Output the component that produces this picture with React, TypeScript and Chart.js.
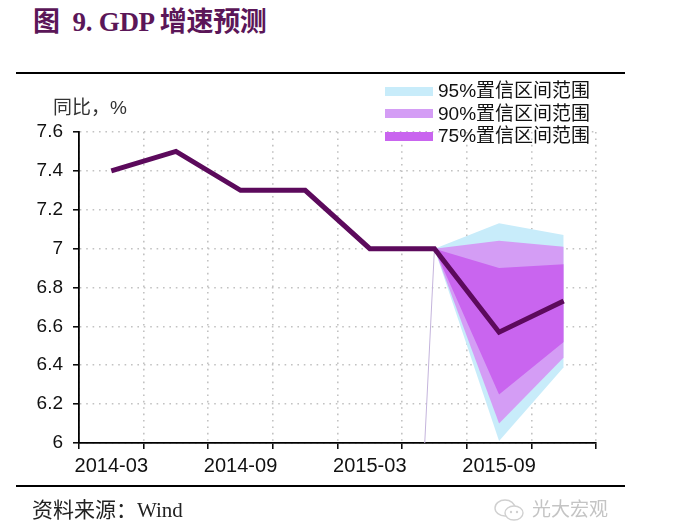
import React, { useEffect, useRef } from "react";
import { Chart, registerables } from "chart.js";

Chart.register(...registerables);

const categories = ["2014-03", "2014-06", "2014-09", "2014-12", "2015-03", "2015-06", "2015-09", "2015-12"];
const xTickLabels = ["2014-03", "", "2014-09", "", "2015-03", "", "2015-09", ""];
const gdpGrowth = [7.4, 7.5, 7.3, 7.3, 7.0, 7.0, 6.57, 6.73];
const upper95 = [null, null, null, null, null, 7.0, 7.13, 7.07];
const lower95 = [null, null, null, null, null, 7.0, 6.01, 6.39];
const upper90 = [null, null, null, null, null, 7.0, 7.04, 7.01];
const lower90 = [null, null, null, null, null, 7.0, 6.1, 6.44];
const upper75 = [null, null, null, null, null, 7.0, 6.9, 6.92];
const lower75 = [null, null, null, null, null, 7.0, 6.25, 6.52];
const guideX = [5, 4.85];
const guideY = [7.0, 6.0];
const yMin = 6;
const yMax = 7.6;
const yStep = 0.2;

const legendNames = ["95%置信区间范围", "90%置信区间范围", "75%置信区间范围"];
const bandColors = ["#c8ecfa", "#d49df5", "#c965ef"];
const lineColor = "#5c0a5c";

const sansFont = '"Liberation Sans", Arial, "Noto Sans CJK SC", sans-serif';
const serifFont = '"Liberation Serif", "Times New Roman", "Noto Sans CJK SC", serif';

export default function App() {
  const canvasRef = useRef<HTMLCanvasElement | null>(null);

  useEffect(() => {
    const canvas = canvasRef.current;
    if (!canvas) return;
    const band = (data: (number | null)[], color: string, fill: any, order: number) => ({
      type: "line" as const,
      data,
      borderColor: "rgba(0,0,0,0)",
      borderWidth: 0,
      backgroundColor: color,
      pointRadius: 0,
      fill,
      order,
      tension: 0,
    });
    const chart = new Chart(canvas, {
      type: "line",
      data: {
        labels: categories,
        datasets: [
          band(upper95, bandColors[0], "+1", 10),
          band(lower95, bandColors[0], false, 10),
          band(upper90, bandColors[1], "+1", 8),
          band(lower90, bandColors[1], false, 8),
          band(upper75, bandColors[2], "+1", 6),
          band(lower75, bandColors[2], false, 6),
          {
            type: "line",
            data: guideX.map((x, i) => ({ x, y: guideY[i] })),
            xAxisID: "x2",
            borderColor: "#c4b4dc",
            borderWidth: 1,
            pointRadius: 0,
            fill: false,
            order: 4,
          } as any,
          {
            type: "line",
            data: gdpGrowth,
            borderColor: lineColor,
            borderWidth: 5,
            pointRadius: 0,
            fill: false,
            tension: 0,
            order: 0,
          },
        ],
      },
      options: {
        responsive: false,
        animation: false,
        layout: { padding: { top: 132, right: 91, left: 0, bottom: 0 } },
        plugins: {
          legend: { display: false },
          tooltip: { enabled: false },
          title: { display: false },
        },
        scales: {
          x: {
            type: "category",
            offset: true,
            grid: {
              offset: true,
              color: "#c2c2c2",
              lineWidth: 1.6,
              tickLength: 6,
              tickColor: "#000",
              tickWidth: 1.5,
            },
            border: { display: true, color: "#000", width: 1.8, dash: [1.6, 4.8] },
            ticks: {
              autoSkip: false,
              maxRotation: 0,
              minRotation: 0,
              padding: 5,
              color: "#111",
              font: { family: sansFont, size: 20 },
              callback: (_v: any, i: number) => xTickLabels[i],
            },
            afterFit: (scale: any) => {
              scale.height = 86;
            },
          },
          x2: {
            type: "linear",
            display: false,
            min: -0.5,
            max: 7.5,
            offset: false,
          },
          y: {
            type: "linear",
            min: yMin,
            max: yMax,
            grid: {
              color: "#c2c2c2",
              lineWidth: 1.6,
              tickLength: 6,
              tickColor: "#000",
              tickWidth: 1.5,
            },
            border: { display: true, color: "#000", width: 1.8, dash: [1.6, 4.8] },
            ticks: {
              stepSize: yStep,
              padding: 10,
              color: "#111",
              font: { family: sansFont, size: 19 },
              callback: (v: any) => String(Math.round(Number(v) * 10) / 10),
            },
            afterFit: (scale: any) => {
              scale.width = 79;
            },
          },
        },
      },
    } as any);
    return () => chart.destroy();
  }, []);

  return (
    <div style={{ position: "fixed", left: 0, top: 0, width: 687, height: 529, background: "#fff", overflow: "hidden" }}>
      <div
        style={{
          position: "absolute",
          left: 33,
          top: 4,
          fontFamily: serifFont,
          fontWeight: "bold",
          fontSize: 27,
          lineHeight: "36px",
          color: "#5b1658",
          whiteSpace: "pre",
          letterSpacing: -0.3,
        }}
      >
        {"图  9. GDP 增速预测"}
      </div>
      <div style={{ position: "absolute", left: 16, top: 72, width: 609, height: 1.5, background: "#000" }} />
      <canvas ref={canvasRef} width={687} height={529} style={{ position: "absolute", left: 0, top: 0 }} />
      <div
        style={{
          position: "absolute",
          left: 53,
          top: 96,
          fontFamily: sansFont,
          fontSize: 19,
          lineHeight: "24px",
          color: "#333",
          whiteSpace: "pre",
        }}
      >
        同比，%
      </div>
      {legendNames.map((name, i) => (
        <div key={name} style={{ position: "absolute", left: 385, top: 79 + i * 22.5, height: 24, display: "flex", alignItems: "center" }}>
          <div style={{ width: 48, height: 9, background: bandColors[i] }} />
          <div
            style={{
              marginLeft: 5,
              fontFamily: sansFont,
              fontSize: 19,
              lineHeight: "24px",
              color: "#111",
              whiteSpace: "pre",
            }}
          >
            {name}
          </div>
        </div>
      ))}
      <div style={{ position: "absolute", left: 16, top: 485, width: 609, height: 1.5, background: "#000" }} />
      <div
        style={{
          position: "absolute",
          left: 32,
          top: 497,
          fontFamily: serifFont,
          fontSize: 21,
          lineHeight: "26px",
          color: "#222",
          whiteSpace: "pre",
        }}
      >
        资料来源：Wind
      </div>
      <svg style={{ position: "absolute", left: 493, top: 498 }} width={34} height={26} viewBox="0 0 34 26">
        <ellipse cx={12} cy={10} rx={10} ry={8} fill="none" stroke="#d0d0d0" strokeWidth={1.4} />
        <ellipse cx={21} cy={15} rx={9} ry={7} fill="#fff" stroke="#d0d0d0" strokeWidth={1.4} />
        <circle cx={18} cy={14} r={1.2} fill="#d0d0d0" />
        <circle cx={24} cy={14} r={1.2} fill="#d0d0d0" />
      </svg>
      <div
        style={{
          position: "absolute",
          left: 532,
          top: 498,
          fontFamily: sansFont,
          fontSize: 19,
          lineHeight: "24px",
          color: "#c4c4c4",
          whiteSpace: "pre",
        }}
      >
        光大宏观
      </div>
    </div>
  );
}
